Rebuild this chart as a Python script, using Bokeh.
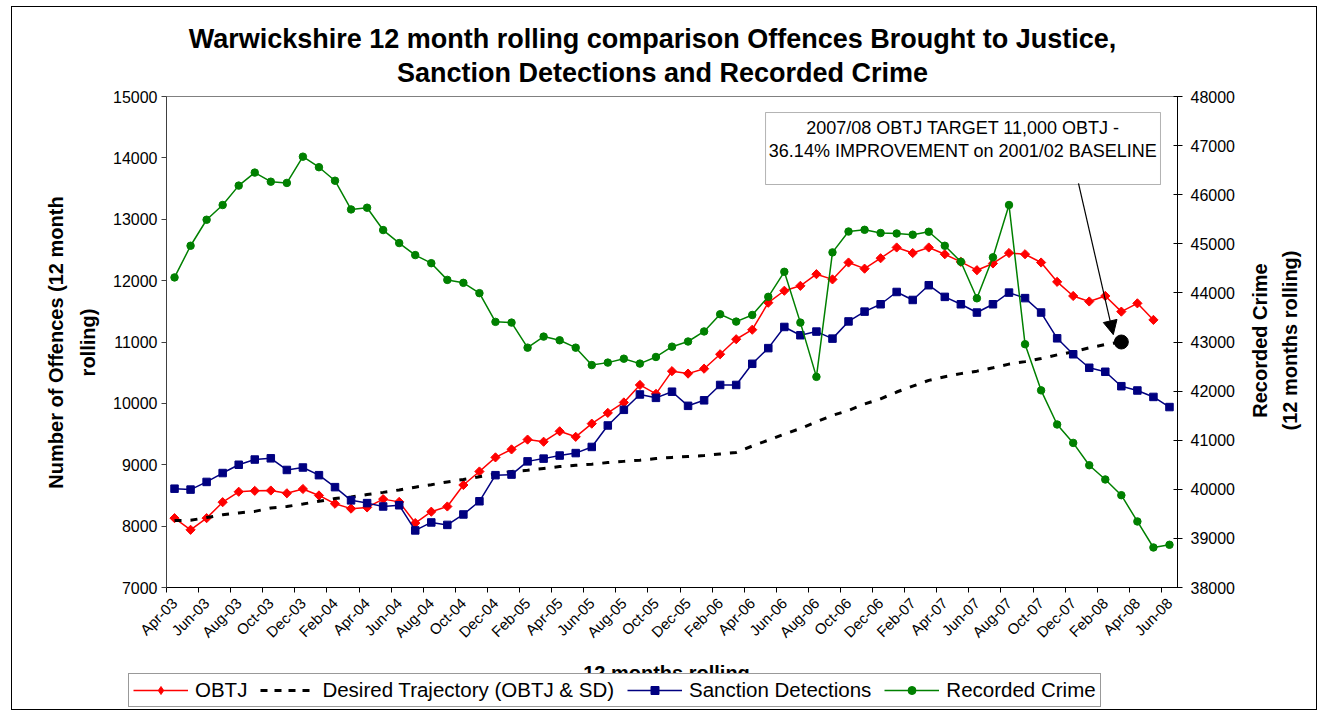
import math
from bokeh.plotting import figure
from bokeh.layouts import column
from bokeh.models import (Range1d, LinearAxis, FixedTicker, Legend, LegendItem,
                          Label, BoxAnnotation, Arrow, NormalHead)
from bokeh.embed import file_html
from bokeh.resources import INLINE

FONT = "Liberation Sans"

months = [
    "Apr-03", "May-03", "Jun-03", "Jul-03", "Aug-03", "Sep-03", "Oct-03", "Nov-03", "Dec-03", "Jan-04", "Feb-04", "Mar-04",
    "Apr-04", "May-04", "Jun-04", "Jul-04", "Aug-04", "Sep-04", "Oct-04", "Nov-04", "Dec-04", "Jan-05", "Feb-05", "Mar-05",
    "Apr-05", "May-05", "Jun-05", "Jul-05", "Aug-05", "Sep-05", "Oct-05", "Nov-05", "Dec-05", "Jan-06", "Feb-06", "Mar-06",
    "Apr-06", "May-06", "Jun-06", "Jul-06", "Aug-06", "Sep-06", "Oct-06", "Nov-06", "Dec-06", "Jan-07", "Feb-07", "Mar-07",
    "Apr-07", "May-07", "Jun-07", "Jul-07", "Aug-07", "Sep-07", "Oct-07", "Nov-07", "Dec-07", "Jan-08", "Feb-08", "Mar-08",
    "Apr-08", "May-08", "Jun-08",
]

obtj = [8130, 7940, 8130, 8390, 8560, 8575, 8580, 8535, 8605, 8500, 8365, 8285,
        8305, 8440, 8395, 8050, 8235, 8320, 8670, 8890, 9120, 9250, 9410, 9375,
        9545, 9455, 9670, 9845, 10015, 10300, 10155, 10525, 10485, 10565, 10800, 11045,
        11200, 11640, 11835, 11915, 12105, 12020, 12295, 12195, 12365, 12540, 12450, 12540,
        12430, 12305, 12170, 12280, 12450, 12430, 12295, 11980, 11750, 11660, 11750, 11495,
        11630, 11360]

desired = [8090, 8095, 8140, 8185, 8215, 8240, 8295, 8320, 8360, 8405, 8450, 8475,
           8515, 8550, 8590, 8635, 8675, 8720, 8760, 8805, 8850, 8890, 8910, 8940,
           8970, 8990, 9010, 9035, 9055, 9075, 9100, 9120, 9135, 9150, 9175, 9200,
           9305, 9400, 9500, 9590, 9700, 9805, 9885, 9990, 10075, 10185, 10280, 10375,
           10435, 10485, 10525, 10580, 10640, 10680, 10730, 10790, 10840, 10905, 10960, 11000]

sanction = [8610, 8595, 8720, 8865, 9000, 9085, 9105, 8915, 8955, 8830, 8635, 8420,
            8375, 8320, 8340, 7930, 8060, 8020, 8190, 8405, 8830, 8840, 9055, 9100,
            9150, 9190, 9290, 9640, 9895, 10145, 10090, 10190, 9960, 10050, 10300, 10300,
            10645, 10900, 11245, 11110, 11170, 11055, 11335, 11495, 11615, 11815, 11685, 11925,
            11735, 11615, 11480, 11615, 11805, 11715, 11480, 11060, 10800, 10580, 10515, 10280,
            10210, 10105, 9940]

recorded = [44315, 44960, 45490, 45790, 46185, 46450, 46265, 46240, 46775, 46560, 46285, 45700,
            45735, 45280, 45015, 44770, 44605, 44265, 44205, 43995, 43410, 43395, 42885, 43110,
            43035, 42885, 42530, 42580, 42660, 42560, 42695, 42905, 43010, 43215, 43565, 43415,
            43550, 43920, 44430, 43395, 42290, 44825, 45250, 45285, 45220, 45210, 45185, 45245,
            44960, 44635, 43890, 44725, 45790, 42955, 42015, 41320, 40945, 40490, 40200, 39880,
            39345, 38815, 38870]

target_month = "Mar-08"
target_value = 11000

left_ticks = [7000, 8000, 9000, 10000, 11000, 12000, 13000, 14000, 15000]
right_ticks = [38000, 39000, 40000, 41000, 42000, 43000, 44000, 45000, 46000, 47000, 48000]

title_lines = ["Warwickshire 12 month rolling comparison Offences Brought to Justice,",
               "Sanction Detections and Recorded Crime"]
left_title = ["Number of Offences (12 month", "rolling)"]
right_title = ["Recorded Crime", "(12 months rolling)"]
x_title = "12 months rolling"
note_lines = ["2007/08 OBTJ TARGET 11,000 OBTJ -", "36.14% IMPROVEMENT on 2001/02 BASELINE"]
series_names = ["OBTJ", "Desired Trajectory (OBTJ & SD)", "Sanction Detections", "Recorded Crime"]

idx = list(range(len(months)))
x_obtj = idx[:len(obtj)]
x_des = idx[:len(desired)]
x_sd = idx[:len(sanction)]
x_rc = idx[:len(recorded)]
x_target = months.index(target_month)

W, H = 1306, 704

# ---------------- main chart ----------------
p = figure(width=W, height=H, x_range=Range1d(-0.5, len(months) - 0.5),
           y_range=Range1d(left_ticks[0], left_ticks[-1]),
           output_backend="svg", toolbar_location=None,
           min_border_left=154, min_border_right=141, min_border_top=89, min_border_bottom=124)
p.styles = {"margin-left": "11px", "margin-top": "6px", "border": "1px solid #000000"}
p.background_fill_color = "white"
p.border_fill_color = "white"
p.outline_line_color = "#808080"
p.xgrid.visible = False
p.ygrid.visible = False
p.extra_y_ranges = {"rc": Range1d(right_ticks[0], right_ticks[-1])}

ya = p.yaxis[0]
ya.ticker = FixedTicker(ticks=left_ticks)
ya.major_tick_out = 5
ya.major_tick_in = 0
ya.minor_tick_line_color = None
ya.axis_line_color = "#404040"
ya.major_tick_line_color = "#404040"
ya.major_label_text_font = FONT
ya.major_label_text_font_size = "16px"
ya.major_label_text_color = "black"
ya.major_label_standoff = 4

ra = LinearAxis(y_range_name="rc", ticker=FixedTicker(ticks=right_ticks))
ra.major_tick_out = 5
ra.major_tick_in = 4
ra.minor_tick_line_color = None
ra.axis_line_color = "black"
ra.major_label_text_font = FONT
ra.major_label_text_font_size = "16px"
ra.major_label_text_color = "black"
ra.major_label_standoff = 8
p.add_layout(ra, "right")

xa = p.xaxis[0]
major = idx[::2]
xa.ticker = FixedTicker(ticks=major, minor_ticks=[m - 0.5 for m in major])
xa.major_label_overrides = {m: months[m] for m in major}
xa.major_tick_line_color = None
xa.major_tick_out = 0
xa.major_tick_in = 0
xa.minor_tick_out = 5
xa.minor_tick_in = 0
xa.minor_tick_line_color = "black"
xa.axis_line_color = "black"
xa.major_label_orientation = math.pi / 4
xa.major_label_text_font = FONT
xa.major_label_text_font_size = "15px"
xa.major_label_text_color = "black"
xa.major_label_standoff = 8

p.line(x_obtj, obtj, line_color="#FF0000", line_width=1.5)
p.scatter(x_obtj, obtj, marker="square", angle=math.pi / 4, size=6.5,
          fill_color="#FF0000", line_color="#FF0000")
p.line(x_des, desired, line_color="black", line_width=3, line_dash="7 9")
p.line(x_sd, sanction, line_color="#000080", line_width=1.5)
p.scatter(x_sd, sanction, marker="square", size=7.5, fill_color="#000080", line_color="#000080")
p.line(x_rc, recorded, line_color="#008000", line_width=1.5, y_range_name="rc")
p.scatter(x_rc, recorded, marker="circle", size=7.5, fill_color="#008000",
          line_color="#008000", y_range_name="rc")
p.scatter([x_target], [target_value], marker="circle", size=14, fill_color="black", line_color="black")

p.add_layout(BoxAnnotation(left=36.83, right=61.44, top=14739, bottom=13566,
                           fill_color="white", fill_alpha=1, line_color="black",
                           line_width=1, level="annotation"))
for t, yy in zip(note_lines, [14479, 14120]):
    p.add_layout(Label(x=49.13, y=yy, text=t, text_align="center", text_baseline="middle",
                       text_font=FONT, text_font_size="18px", text_color="black"))
p.add_layout(Arrow(x_start=56.33, y_start=13583, x_end=x_target - 0.5, y_end=target_value + 120,
                   line_color="black", line_width=1.2,
                   end=NormalHead(size=14, fill_color="black", line_color="black")))

# ---------------- transparent overlay for texts and legend (pixel coordinates) ----------------
o = figure(width=W, height=H, x_range=Range1d(0, W), y_range=Range1d(H, 0),
           x_axis_location=None, y_axis_location=None, min_border=0,
           output_backend="svg", toolbar_location=None)
o.styles = {"position": "absolute", "left": "12px", "top": "7px", "pointer-events": "none"}
o.xgrid.visible = False
o.ygrid.visible = False
o.outline_line_color = None
o.background_fill_alpha = 0
o.border_fill_alpha = 0

aligned_ok = True
try:
    p.frame_align = False
    o.frame_align = False
except Exception:
    aligned_ok = False


def txt(x, y, text, size, bold=False, angle=0.0):
    o.add_layout(Label(x=x, y=y, text=text, angle=angle, text_align="center",
                       text_baseline="middle", text_font=FONT, text_font_size=size,
                       text_font_style="bold" if bold else "normal", text_color="black"))


txt(640, 31, title_lines[0], "27px", True)
txt(650, 65, title_lines[1], "27px", True)
txt(43, 335, left_title[0], "20px", True, math.pi / 2)
txt(75, 335, left_title[1], "20px", True, math.pi / 2)
txt(1247, 333, right_title[0], "20px", True, math.pi / 2)
txt(1277, 333, right_title[1], "20px", True, math.pi / 2)
txt(654, 665, x_title, "20px", True)

nan = [float("nan")]
g1 = o.line(nan, nan, line_color="#FF0000", line_width=1.5)
m1 = o.scatter(nan, nan, marker="diamond", size=10, fill_color="#FF0000", line_color="#FF0000")
g2 = o.line(nan, nan, line_color="black", line_width=3, line_dash="7 7")
g3 = o.line(nan, nan, line_color="#000080", line_width=1.5)
m3 = o.scatter(nan, nan, marker="square", size=7, fill_color="#000080", line_color="#000080")
g4 = o.line(nan, nan, line_color="#008000", line_width=1.5)
m4 = o.scatter(nan, nan, marker="circle", size=7, fill_color="#008000", line_color="#008000")

legend = Legend(items=[LegendItem(label=series_names[0], renderers=[g1, m1]),
                       LegendItem(label=series_names[1], renderers=[g2]),
                       LegendItem(label=series_names[2], renderers=[g3, m3]),
                       LegendItem(label=series_names[3], renderers=[g4, m4])],
                orientation="horizontal", location=(116, 4), margin=0,
                label_text_font=FONT, label_text_font_size="20.5px", label_text_color="black",
                glyph_width=55, glyph_height=20, label_standoff=7, spacing=13, padding=4,
                border_line_color="#333333", border_line_width=1,
                background_fill_color="white", background_fill_alpha=1)
o.add_layout(legend, "center")

if aligned_ok:
    root = column(p, o)
else:
    root = [p, o]
open("out.html", "w").write(file_html(root, INLINE))
